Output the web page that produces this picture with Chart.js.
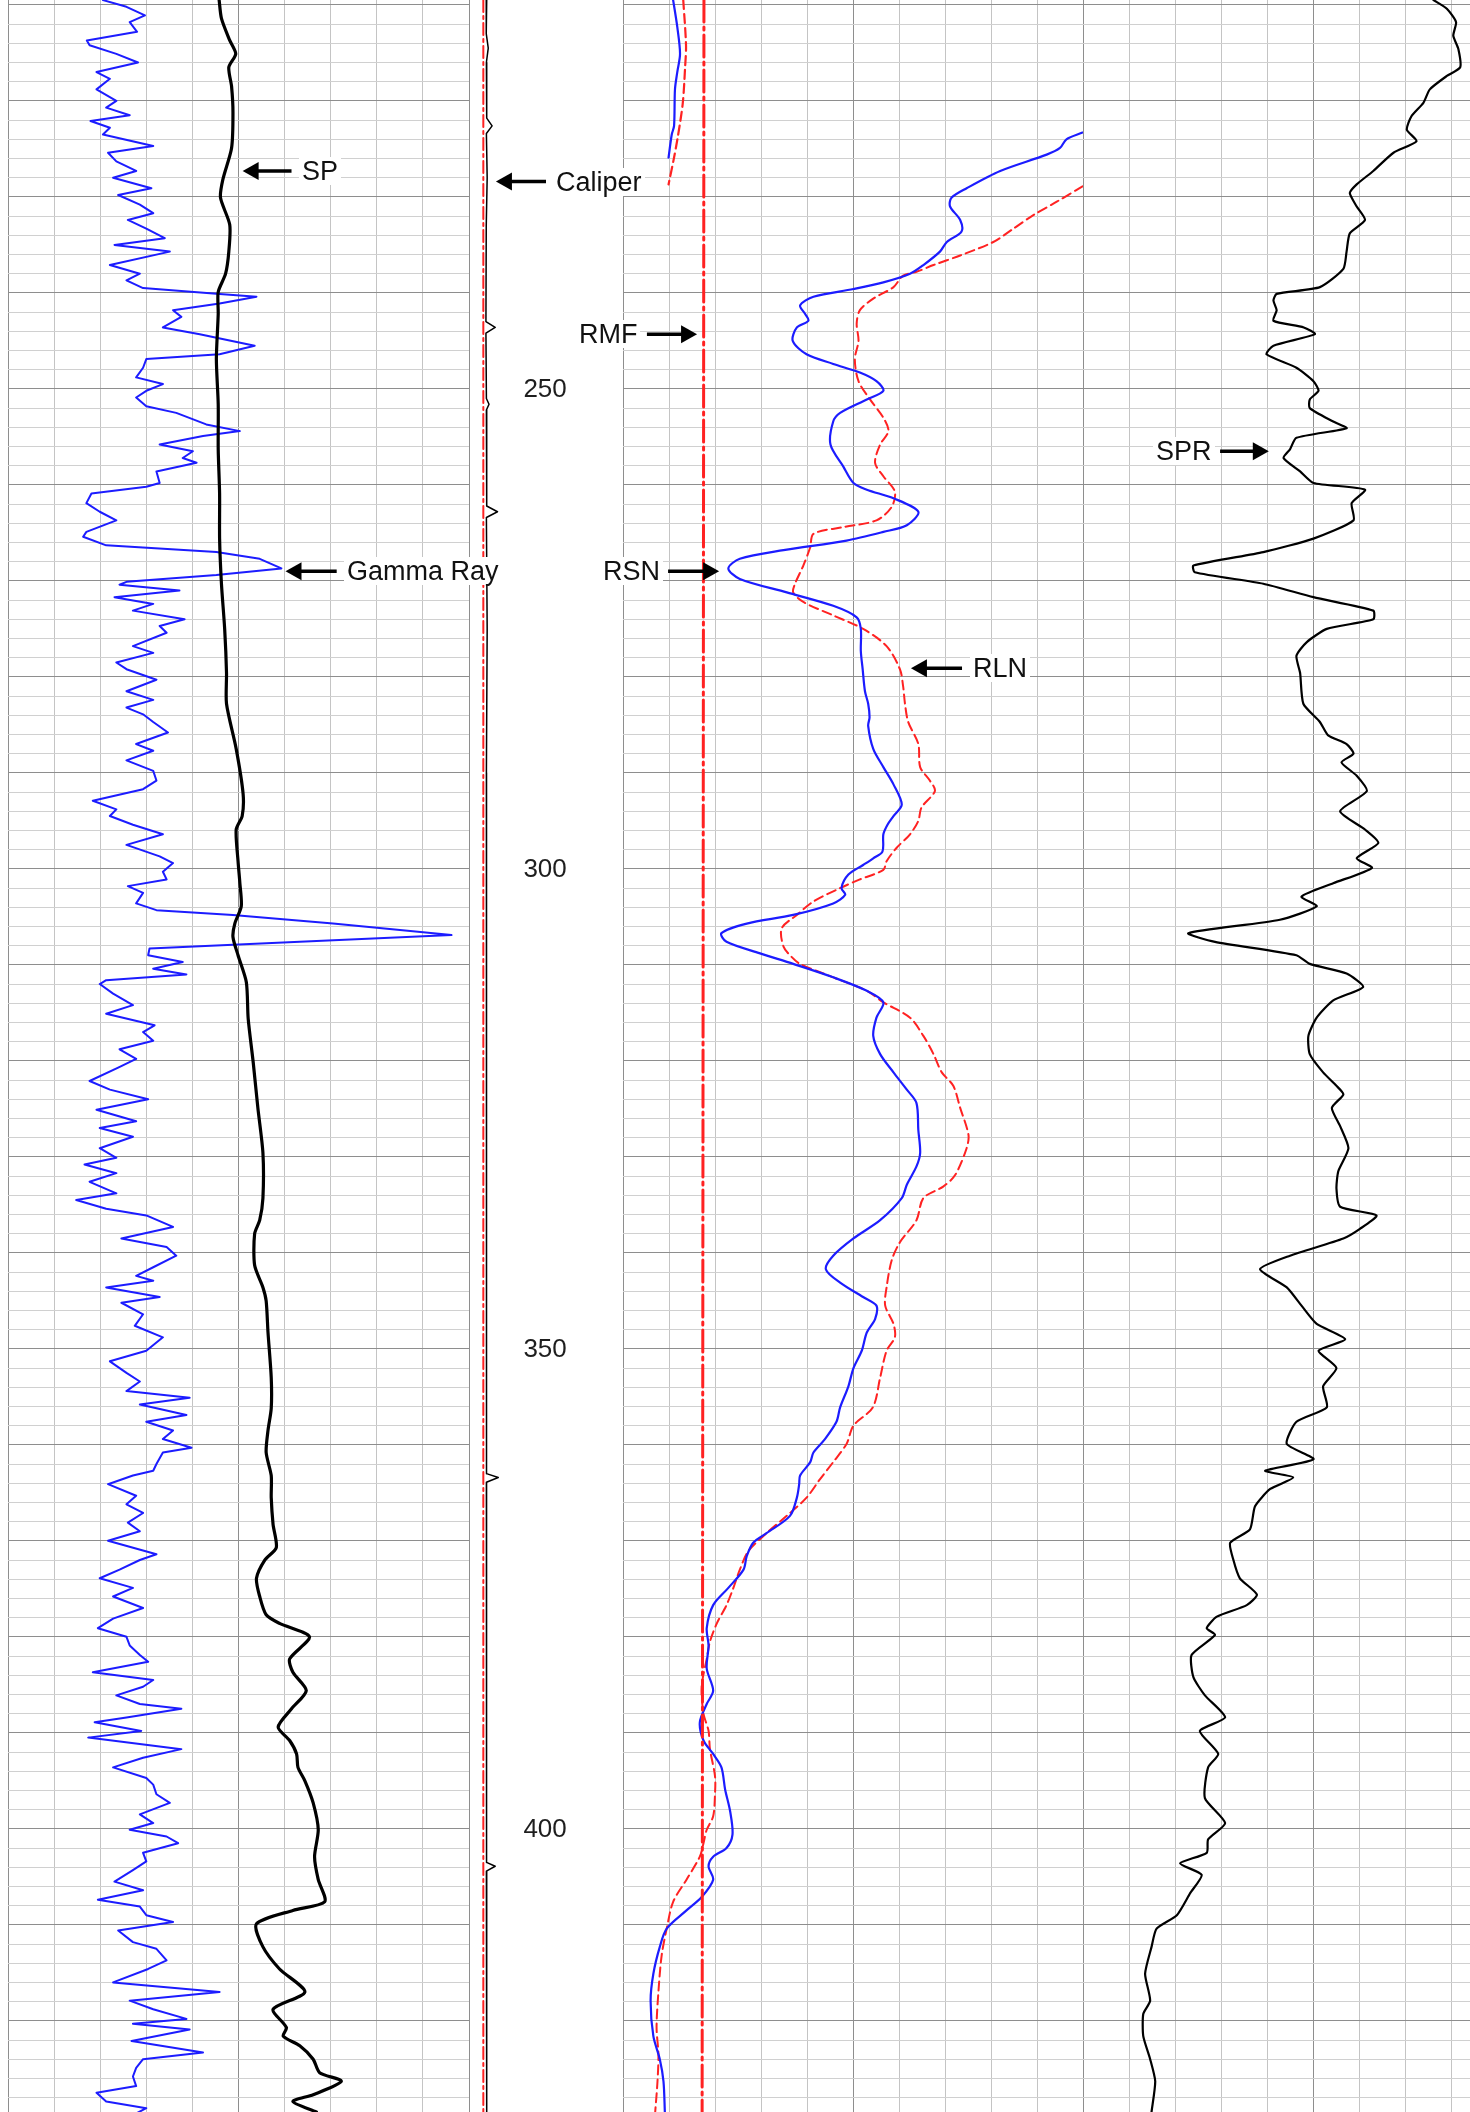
<!DOCTYPE html>
<html>
<head>
<meta charset="utf-8">
<title>Well log</title>
<script src="https://cdn.jsdelivr.net/npm/chart.js@4.4.1/dist/chart.umd.min.js"></script>
<style>
  html, body { margin: 0; padding: 0; background: #fff; }
  body { position: relative; width: 1470px; height: 2112px; overflow: hidden; }
  canvas { position: absolute; top: -30px; }
  .tag { position: absolute; font: 27px "Liberation Sans", Arial, sans-serif; line-height: 28px; color: #111; background: #fff; padding: 0 3px; white-space: nowrap; }
</style>
</head>
<body>
<canvas id="track1" width="481" height="2172" style="left:-2px"></canvas>
<canvas id="depthTrack" width="154" height="2172" style="left:469px"></canvas>
<canvas id="track2" width="480" height="2172" style="left:613px"></canvas>
<canvas id="track3" width="480" height="2172" style="left:1073px"></canvas>

<div class="tag" style="left:299px;top:157px">SP</div>
<div class="tag" style="left:344px;top:557px">Gamma Ray</div>
<div class="tag" style="left:553px;top:168px">Caliper</div>
<div class="tag" style="left:576px;top:320px">RMF</div>
<div class="tag" style="left:600px;top:557px">RSN</div>
<div class="tag" style="left:970px;top:654px">RLN</div>
<div class="tag" style="left:1153px;top:437px">SPR</div>

<script>
// depth window of the log (ft)
const DEPTH_TOP = 209.49;
const DEPTH_BASE = 429.5;

// [depth, reading] pairs, readings in % of track width
const gammaRay = [
  [209.5,20.6],[210.2,25.7],[211.1,29.7],[211.8,26.4],[212.8,28.0],[213.7,17.1],[214.2,17.7],[215.1,23.5],[216.0,28.2],[217.0,19.2],
  [217.7,22.1],[218.8,19.2],[220.0,23.5],[220.7,21.3],[221.5,26.4],[222.1,17.9],[222.8,22.1],[223.5,20.6],[224.7,31.5],[225.4,21.7],
  [226.3,23.5],[227.3,27.8],[228.0,22.8],[229.1,31.1],[229.8,23.9],[230.8,28.6],[231.7,31.5],[232.4,26.0],[233.3,30.0],[234.3,34.0],
  [235.0,23.1],[235.7,35.1],[237.1,22.1],[238.0,28.6],[238.7,25.7],[239.5,29.3],[240.1,45.2],[240.4,53.9],[241.1,45.9],[241.8,35.8],
  [242.5,37.6],[243.6,33.6],[244.3,41.6],[245.5,53.5],[246.4,45.9],[246.9,30.0],[247.8,29.3],[248.8,27.8],[249.5,33.6],[250.2,30.0],
  [250.9,27.8],[251.8,30.0],[252.5,36.5],[253.7,43.0],[254.4,50.3],[254.9,42.3],[255.8,32.9],[256.5,40.1],[257.2,37.9],[257.7,40.9],
  [258.6,32.2],[259.8,32.9],[260.2,30.0],[260.9,18.1],[261.9,17.0],[262.8,19.9],[263.7,23.5],[264.9,17.0],[265.4,16.3],[266.3,21.3],
  [267.0,45.2],[267.7,54.6],[268.7,59.3],[269.4,45.2],[270.1,25.7],[270.4,24.2],[271.0,37.2],[271.7,23.1],[272.4,31.5],[273.1,27.1],
  [274.0,38.3],[274.7,32.9],[275.4,34.4],[276.8,27.1],[277.5,31.5],[278.5,23.5],[279.2,25.7],[280.3,32.2],[281.5,25.7],[282.4,31.5],
  [283.2,25.7],[283.9,29.3],[284.7,31.5],[285.8,34.7],[287.0,27.8],[287.7,31.5],[288.7,25.7],[289.8,31.5],[290.8,32.2],[291.7,29.3],
  [292.9,18.4],[293.8,23.5],[294.5,22.1],[295.4,27.1],[296.4,33.6],[297.5,25.7],[298.7,32.9],[299.4,35.8],[300.3,33.6],[301.1,34.4],
  [301.8,26.0],[302.5,29.3],[303.6,27.8],[304.3,32.2],[304.8,48.8],[305.7,70.5],[306.9,96.2],[307.6,63.3],[308.3,30.7],[309.0,30.4],
  [309.7,37.9],[310.4,31.5],[311.0,38.7],[311.6,21.3],[312.0,19.9],[313.0,22.8],[314.2,27.1],[315.1,21.3],[316.3,31.8],[317.0,29.3],
  [317.9,31.5],[318.8,24.2],[319.8,27.8],[320.7,23.9],[322.1,17.7],[323.0,22.1],[324.0,30.4],[325.1,19.2],[326.3,27.8],[327.0,19.9],
  [327.9,27.1],[329.1,19.9],[330.1,23.5],[330.8,16.6],[331.7,23.5],[332.6,17.7],[333.8,23.5],[334.5,14.8],[335.4,21.3],[336.1,30.0],
  [337.3,35.8],[338.5,24.6],[339.4,34.4],[340.3,36.5],[341.5,31.5],[342.4,27.8],[342.9,31.5],[343.6,21.3],[344.6,32.9],[345.2,24.6],
  [346.4,29.3],[347.6,27.5],[348.8,33.6],[350.2,30.0],[351.3,22.1],[352.5,25.7],[353.4,28.6],[354.4,25.7],[355.1,39.4],[355.8,28.6],
  [356.9,38.7],[357.6,30.0],[358.5,35.8],[359.4,33.6],[360.3,39.8],[360.8,33.6],[362.0,32.2],[362.7,31.5],[363.2,27.1],[364.1,21.7],
  [365.3,27.8],[366.2,25.7],[367.1,29.3],[368.1,26.0],[369.0,28.6],[370.0,21.7],[371.4,32.2],[372.0,28.6],[373.0,24.2],[373.9,19.9],
  [374.9,27.1],[375.8,22.8],[377.0,29.3],[378.1,22.8],[379.1,19.5],[380.0,25.7],[380.9,26.4],[381.9,28.6],[382.6,30.4],[383.7,18.4],
  [384.5,31.5],[385.2,29.3],[386.1,23.5],[387.0,28.6],[387.5,37.6],[388.4,25.7],[388.9,18.8],[389.8,28.9],[390.5,17.4],[391.7,37.6],
  [392.6,29.3],[393.6,22.8],[394.7,30.0],[395.4,31.5],[396.4,32.2],[397.3,35.1],[398.5,28.6],[399.4,31.5],[400.1,26.4],[400.8,34.4],
  [401.5,36.9],[402.5,29.3],[403.4,30.0],[404.3,27.1],[405.5,23.1],[406.4,29.3],[407.4,19.5],[408.1,28.6],[409.0,30.0],[409.7,35.8],
  [410.6,23.9],[411.8,27.1],[412.5,32.2],[413.7,34.4],[414.6,30.4],[416.0,22.8],[417.0,45.9],[417.9,26.4],[418.8,31.5],[419.8,38.7],
  [420.3,27.1],[420.9,39.4],[422.1,26.8],[423.3,42.3],[424.0,29.3],[424.9,27.8],[425.8,27.1],[426.8,27.8],[427.5,19.2],[428.4,21.3],
  [429.1,30.0],[429.6,28.0]
];

const sp = [
  [209.5,45.8],[211.4,46.3],[213.7,48.1],[215.1,49.4],[216.5,47.9],[218.5,48.5],[221.2,48.8],[224.9,48.5],[228.2,46.6],[230.1,46.1],
  [232.9,48.1],[235.7,47.9],[238.0,47.2],[239.9,45.6],[242.2,45.6],[246.9,45.2],[251.6,45.6],[256.3,45.6],[260.9,45.9],[265.6,45.9],
  [270.3,46.3],[275.0,47.0],[279.6,47.4],[282.8,47.4],[287.5,49.5],[292.2,51.0],[294.5,50.8],[295.9,49.5],[299.2,49.9],[301.5,50.3],
  [303.9,50.6],[305.7,49.2],[307.1,48.8],[309.0,49.9],[311.8,51.7],[315.6,52.1],[320.2,53.2],[324.9,54.2],[329.6,55.3],[334.3,55.3],
  [336.6,54.6],[338.0,53.5],[341.3,53.5],[343.6,55.3],[345.0,56.0],[348.3,56.4],[353.0,57.1],[356.2,57.1],[358.5,56.4],[360.8,56.0],
  [363.2,57.1],[365.5,57.1],[368.3,57.5],[370.7,58.2],[372.0,55.7],[373.9,53.9],[375.8,54.6],[377.7,56.0],[378.6,58.9],[380.0,65.4],
  [382.3,61.1],[383.7,61.8],[385.6,64.7],[387.5,61.5],[389.4,58.6],[390.8,61.1],[392.2,62.6],[393.6,62.9],[395.0,64.4],[397.3,66.2],
  [400.1,67.3],[402.9,66.5],[405.3,67.3],[407.6,68.7],[408.5,61.8],[409.9,53.9],[412.3,55.3],[414.6,58.9],[417.0,64.4],[418.8,57.5],
  [420.7,60.4],[421.6,59.7],[422.6,63.3],[424.0,66.2],[425.4,67.6],[426.3,72.3],[427.7,66.2],[428.4,61.8],[429.5,66.9]
];

const caliper = [
  [209.5,11.5],[213.0,11.2],[214.5,12.5],[216.0,11.3],[221.8,11.5],[222.6,15.0],[223.4,11.3],[228.0,11.8],[233.0,11.2],[243.0,11.0],
  [243.6,17.0],[244.2,11.0],[251.0,11.3],[251.6,13.0],[252.2,11.3],[262.2,11.5],[262.8,18.5],[263.4,11.3],[275.0,11.8],[290.0,11.3],
  [307.0,11.5],[325.0,11.2],[345.0,11.5],[363.0,11.3],[363.4,19.0],[363.9,11.3],[385.0,11.5],[403.5,11.3],[403.9,17.0],[404.4,11.3],
  [429.5,11.5]
];
const bitSize = [[209.5,9.3],[429.5,9.3]];

const rmf = [[209.5,17.6],[429.5,17.2]];

// short segments at the top, before the curves wrap round to the right edge
const rsnWrap = [[209.5,10.9],[212.3,11.8],[215.1,12.4],[217.0,11.8],[218.8,11.3],[222.6,11.1],[223.5,10.6],[225.9,9.9]];
const rlnWrap = [[209.5,13.1],[214.2,13.7],[216.5,13.5],[220.2,13.0],[223.5,12.0],[225.9,11.1],[228.7,9.9]];

const rsn = [
  [223.3,99.9],[224.0,96.4],[224.9,95.0],[225.6,92.1],[227.3,82.0],[229.1,74.7],[230.1,71.4],[231.0,71.1],[232.4,73.3],[233.6,73.6],
  [234.7,70.4],[235.7,68.9],[237.1,65.3],[238.0,62.4],[238.9,56.6],[239.6,50.1],[240.4,41.4],[241.3,38.5],[242.2,39.6],[242.9,40.3],
  [243.6,37.8],[245.0,36.9],[246.4,39.9],[247.4,45.7],[248.3,51.5],[249.2,55.1],[250.2,56.6],[251.1,53.0],[252.5,47.2],[253.4,45.7],
  [255.8,45.1],[258.1,47.9],[259.8,50.1],[260.5,53.0],[261.4,58.8],[262.8,64.2],[264.2,61.7],[264.9,56.6],[265.8,48.6],[266.8,34.9],
  [267.7,25.4],[268.7,22.9],[269.8,25.4],[271.2,35.6],[272.6,45.7],[273.8,50.8],[275.0,51.7],[277.3,51.7],[279.2,52.1],[281.5,52.6],
  [282.8,53.3],[284.2,53.6],[285.1,53.3],[287.5,54.4],[289.4,56.6],[291.2,58.8],[293.3,60.6],[294.5,58.8],[295.4,57.5],[296.4,56.6],
  [298.2,56.4],[298.9,54.4],[299.6,52.2],[300.6,49.0],[302.0,47.5],[302.7,48.3],[303.6,45.7],[304.8,37.0],[305.7,26.9],[306.7,21.4],
  [307.6,22.5],[308.8,29.8],[309.9,37.0],[311.3,45.7],[312.7,53.0],[313.9,56.6],[315.5,55.1],[317.4,54.4],[319.3,55.9],[321.2,58.8],
  [323.0,61.7],[324.4,63.8],[327.2,64.2],[329.6,64.6],[331.0,63.8],[332.9,61.7],[334.3,60.6],[336.6,55.9],[338.5,50.1],[340.3,45.7],
  [341.7,44.1],[343.1,47.2],[344.6,52.2],[345.5,55.1],[346.9,54.8],[348.3,53.0],[350.2,51.9],[352.0,50.1],[353.9,49.0],[356.1,47.2],
  [357.6,46.4],[359.4,43.9],[360.8,41.4],[361.8,40.7],[363.2,38.5],[364.1,38.3],[365.5,37.8],[367.4,36.3],[369.2,31.2],[370.2,28.3],
  [371.6,26.9],[373.0,26.2],[374.9,22.9],[376.7,19.6],[379.1,18.2],[380.9,18.6],[383.3,18.2],[385.6,19.6],[387.0,18.2],[388.9,16.7],
  [390.8,17.5],[392.2,19.6],[393.6,21.4],[395.9,22.2],[398.2,23.3],[400.6,23.8],[402.0,22.5],[402.9,19.6],[403.9,18.6],[405.3,19.6],
  [407.1,17.1],[408.5,13.8],[410.4,9.5],[412.3,8.0],[415.1,6.6],[417.9,6.0],[421.6,6.6],[424.0,8.0],[426.3,8.8],[429.5,9.1]
];

const rln = [
  [228.9,99.9],[230.5,94.3],[231.9,89.2],[233.3,84.9],[234.7,80.5],[236.1,73.3],[237.1,67.5],[237.8,63.8],[238.2,60.9],[239.4,58.8],
  [240.6,54.4],[241.8,51.5],[243.2,50.8],[245.0,51.2],[246.9,50.4],[249.2,51.2],[251.1,53.7],[253.0,56.6],[254.4,57.7],[255.8,55.9],
  [257.7,54.8],[259.1,56.6],[260.7,59.1],[262.3,58.4],[263.7,55.1],[264.4,47.9],[265.1,41.4],[266.5,40.7],[268.4,39.2],[270.3,37.4],
  [271.2,37.0],[272.2,39.2],[273.6,45.7],[275.0,52.2],[276.8,57.3],[279.2,60.2],[281.0,60.9],[282.8,61.3],[284.7,62.0],[287.0,64.2],
  [289.4,64.6],[290.8,66.7],[291.9,67.8],[293.6,64.9],[295.0,64.2],[296.4,62.4],[297.8,59.5],[299.2,57.3],[300.1,56.6],[301.1,51.5],
  [302.0,47.2],[303.4,41.4],[304.8,37.8],[306.2,34.5],[308.1,34.9],[309.2,36.7],[309.9,38.5],[311.3,45.7],[312.7,53.0],[313.9,56.6],
  [315.5,62.4],[317.4,65.3],[319.3,67.5],[321.2,69.3],[322.6,71.8],[324.9,73.3],[327.7,75.1],[329.1,74.7],[331.9,72.2],[333.1,69.6],
  [334.3,65.3],[336.6,63.8],[338.9,60.2],[340.8,58.4],[343.6,57.3],[345.5,57.0],[347.4,58.8],[348.8,59.1],[350.2,57.3],[353.0,55.9],
  [356.1,54.3],[358.0,50.1],[359.9,48.6],[361.8,45.7],[363.6,42.8],[365.5,39.9],[367.4,35.6],[369.2,31.2],[371.1,27.2],[373.0,25.4],
  [374.9,24.0],[376.7,22.5],[378.6,20.4],[380.5,18.9],[382.3,18.2],[385.2,17.1],[388.0,17.5],[389.8,18.6],[391.7,18.9],[394.5,20.0],
  [396.4,20.0],[398.7,19.6],[400.1,18.2],[401.5,17.5],[402.9,16.7],[405.3,13.8],[407.6,10.9],[410.4,9.5],[413.2,8.4],[417.0,7.7],
  [420.7,7.3],[423.5,7.7],[426.3,7.5],[429.5,7.0]
];

const spr = [
  [209.5,76.2],[210.4,79.1],[211.8,81.1],[213.2,80.5],[214.6,81.6],[216.5,82.0],[217.4,79.1],[218.8,75.4],[220.2,74.0],[221.6,71.4],
  [223.0,70.4],[224.2,72.5],[225.4,67.5],[227.3,63.1],[228.7,59.5],[229.6,58.0],[231.0,59.5],[232.4,61.3],[233.8,58.0],[235.7,57.3],
  [237.5,56.6],[239.4,51.5],[240.1,42.1],[240.8,41.4],[241.8,42.1],[242.9,41.4],[243.6,48.0],[244.3,50.4],[245.5,41.4],[246.4,39.9],
  [247.8,46.4],[249.2,50.1],[250.2,51.2],[251.1,49.3],[252.0,49.3],[253.4,54.4],[254.1,57.3],[255.1,46.4],[256.3,45.0],[257.2,43.6],
  [258.6,47.2],[259.8,50.1],[260.5,61.3],[261.9,58.4],[263.7,58.8],[265.6,50.1],[267.0,39.2],[268.4,24.0],[269.1,24.3],[270.3,39.2],
  [271.7,50.1],[273.1,63.1],[274.0,63.1],[275.0,53.0],[276.4,48.6],[277.8,46.4],[279.6,47.2],[282.8,47.9],[284.7,51.5],[286.1,53.3],
  [287.0,57.3],[288.0,58.8],[288.9,56.2],[290.3,59.5],[291.9,61.7],[294.0,55.9],[295.9,61.3],[297.3,64.2],[298.9,59.5],[299.9,62.8],
  [301.5,54.4],[302.9,47.5],[303.9,50.8],[305.3,42.8],[306.7,22.9],[307.6,28.7],[309.0,46.4],[309.9,49.3],[310.9,57.3],[312.3,60.9],
  [313.7,54.4],[315.5,50.8],[317.4,49.0],[319.3,49.3],[321.2,52.2],[322.6,55.1],[323.5,56.6],[324.9,54.1],[326.8,55.9],[329.1,57.7],
  [331.5,55.5],[333.3,55.1],[335.2,55.9],[336.1,63.8],[337.5,60.2],[338.5,56.6],[340.3,45.0],[341.7,38.5],[343.6,44.3],[345.5,47.5],
  [347.4,50.8],[349.0,57.0],[350.2,51.2],[352.0,55.1],[353.9,52.2],[356.1,53.0],[357.6,46.4],[359.9,44.3],[361.5,50.1],[362.7,39.6],
  [363.4,45.7],[364.6,40.7],[366.4,37.4],[368.8,36.3],[370.2,32.0],[372.0,32.7],[373.9,34.1],[375.6,37.8],[376.7,35.6],[377.9,29.1],
  [379.1,26.9],[379.8,28.7],[381.9,23.6],[384.2,24.0],[386.1,26.5],[388.4,30.9],[389.8,25.4],[392.2,29.4],[393.6,27.2],[396.8,26.5],
  [399.4,30.9],[401.1,27.2],[402.5,26.9],[403.6,21.1],[404.8,25.8],[406.7,23.3],[409.0,20.4],[410.4,16.0],[412.3,14.9],[415.1,13.5],
  [417.9,14.6],[419.3,13.1],[421.6,13.1],[424.0,14.6],[426.3,15.7],[429.5,14.9]
];

// curve labels: arrow from -> to (track %), at a depth
const track1Arrows = [{ depth: 227.3, from: 61.5, to: 50.9 }, { depth: 269.0, from: 71.3, to: 60.2 }];
const depthArrows = [{ depth: 228.4, from: 50, to: 17.5 }];
const track2Arrows = [{ depth: 244.3, from: 5.2, to: 16.1 }, { depth: 269.0, from: 9.8, to: 20.9 }, { depth: 279.1, from: 73.7, to: 62.6 }];
const track3Arrows = [{ depth: 256.5, from: 29.8, to: 40.4 }];
const depthLabelColumn = 49.4;

const MAJOR = '#8e8e8e';
const MINOR_H = '#d0d0d0';
const MINOR_V = '#c4c4c4';
const BLUE = '#1c1cff';
const RED = '#ff2222';

const arrowPlugin = {
  id: 'arrows',
  afterDatasetsDraw(chart, args, opts) {
    const { ctx, scales: { x, y } } = chart;
    (opts.items || []).forEach(a => {
      const py = y.getPixelForValue(a.depth);
      const x0 = x.getPixelForValue(a.from);
      const x1 = x.getPixelForValue(a.to);
      const dir = Math.sign(x1 - x0);
      ctx.save();
      ctx.strokeStyle = '#000';
      ctx.fillStyle = '#000';
      ctx.lineWidth = 3.5;
      ctx.beginPath();
      ctx.moveTo(x0, py);
      ctx.lineTo(x1 - dir * 12, py);
      ctx.stroke();
      ctx.beginPath();
      ctx.moveTo(x1, py);
      ctx.lineTo(x1 - dir * 16, py - 9);
      ctx.lineTo(x1 - dir * 16, py + 9);
      ctx.closePath();
      ctx.fill();
      ctx.restore();
    });
  }
};

// depth numbers come from the y axis ticks of the depth track
const depthLabelPlugin = {
  id: 'depthLabels',
  afterDraw(chart, args, opts) {
    if (!opts.show) return;
    const { ctx, scales: { x, y } } = chart;
    ctx.save();
    ctx.font = '26px "Liberation Sans", Arial, sans-serif';
    ctx.fillStyle = '#1e1e1e';
    ctx.textAlign = 'center';
    ctx.textBaseline = 'middle';
    y.ticks.forEach(t => ctx.fillText(String(t.value), x.getPixelForValue(depthLabelColumn), y.getPixelForValue(t.value) + 1));
    ctx.restore();
  }
};

function toPoints(series) {
  return series.map(([d, v]) => ({ x: v, y: d }));
}

function curve(series, color, width, dash, tension) {
  return {
    data: toPoints(series), showLine: true, borderColor: color, borderWidth: width,
    borderDash: dash || [], pointRadius: 0, tension: tension || 0, fill: false,
    borderJoinStyle: 'round', borderCapStyle: 'round'
  };
}

function trackOptions(withGrid, arrows) {
  return {
    responsive: false,
    animation: false,
    events: [],
    layout: { padding: { top: 30, bottom: 30, left: withGrid ? 10 : 0, right: withGrid ? 10 : 0 } },
    plugins: {
      legend: { display: false },
      tooltip: { enabled: false },
      arrows: { items: arrows },
      depthLabels: { show: !withGrid }
    },
    scales: {
      x: {
        type: 'linear', position: 'top', min: 0, max: 100, display: withGrid,
        ticks: { display: false, stepSize: 10 },
        border: { display: false },
        grid: { drawTicks: false, color: c => [0, 50, 100].includes(c.tick.value) ? MAJOR : MINOR_V }
      },
      y: {
        type: 'linear', reverse: true, min: DEPTH_TOP, max: DEPTH_BASE,
        ticks: { display: false, stepSize: withGrid ? 2 : 50, includeBounds: false },
        border: { display: false },
        grid: { display: withGrid, drawTicks: false, color: c => c.tick.value % 10 === 0 ? MAJOR : MINOR_H }
      }
    }
  };
}

new Chart(document.getElementById('track1'), {
  type: 'scatter',
  data: { datasets: [
    curve(sp, '#000', 3.2, null, 0.25),
    curve(gammaRay, BLUE, 2)
  ] },
  options: trackOptions(true, track1Arrows),
  plugins: [arrowPlugin]
});

new Chart(document.getElementById('depthTrack'), {
  type: 'scatter',
  data: { datasets: [
    curve(caliper, '#000', 1.5),
    curve(bitSize, RED, 2, [12, 4, 3, 4])
  ] },
  options: trackOptions(false, depthArrows),
  plugins: [arrowPlugin, depthLabelPlugin]
});

new Chart(document.getElementById('track2'), {
  type: 'scatter',
  data: { datasets: [
    curve(rmf, RED, 3, [22, 5, 3, 5]),
    curve(rsnWrap, BLUE, 2.2, null, 0.3),
    curve(rlnWrap, RED, 2.2, [9, 5], 0.3),
    curve(rsn, BLUE, 2.2, null, 0.3),
    curve(rln, RED, 2, [9, 5], 0.3)
  ] },
  options: trackOptions(true, track2Arrows),
  plugins: [arrowPlugin]
});

new Chart(document.getElementById('track3'), {
  type: 'scatter',
  data: { datasets: [
    curve(spr, '#000', 2.2, null, 0.2)
  ] },
  options: trackOptions(true, track3Arrows),
  plugins: [arrowPlugin]
});
</script>
</body>
</html>
